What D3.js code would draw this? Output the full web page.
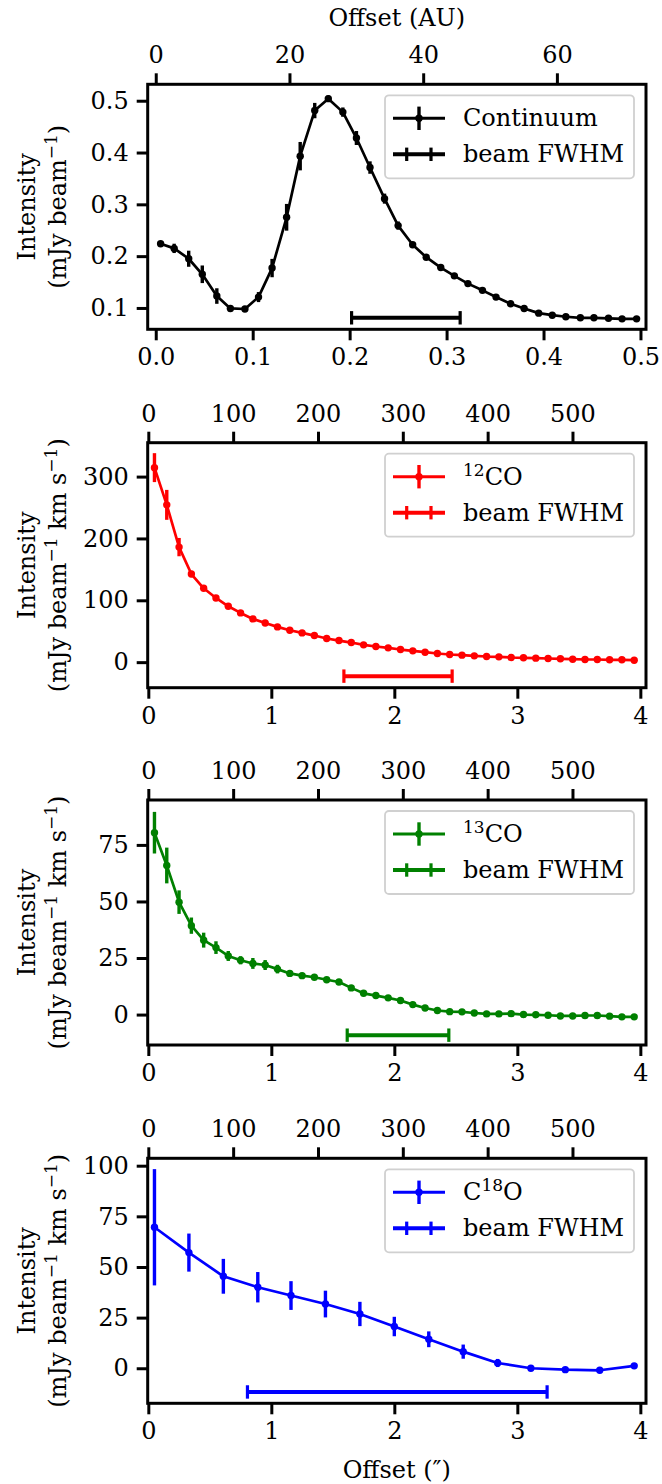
<!DOCTYPE html>
<html><head><meta charset="utf-8">
<script src="https://cdn.jsdelivr.net/npm/d3@7"></script>
<style>
body{margin:0;background:#fff}
text{font-family:"DejaVu Serif",serif}
</style>
</head><body>
<svg id="c" width="662" height="1484" xmlns="http://www.w3.org/2000/svg"></svg>
<script>
// ---------------- DATA ----------------
// Continuum (offset in arcsec, intensity mJy/beam)
const contX = [0.005,0.019,0.034,0.048,0.063,0.077,0.092,0.106,0.120,0.135,0.149,0.164,0.178,0.193,0.207,0.221,0.236,0.250,0.265,0.279,0.294,0.308,0.322,0.337,0.351,0.366,0.380,0.395,0.409,0.423,0.438,0.452,0.467,0.481,0.496];
const contY = [0.224,0.215,0.195,0.165,0.123,0.099,0.098,0.121,0.177,0.275,0.393,0.481,0.504,0.478,0.428,0.371,0.311,0.259,0.222,0.198,0.178,0.162,0.147,0.134,0.121,0.108,0.099,0.090,0.086,0.083,0.081,0.081,0.080,0.079,0.079];
const contErr = [0.005,0.009,0.0155,0.017,0.015,0.006,0.005,0.0097,0.0177,0.0258,0.0274,0.0148,0.006,0.009,0.0135,0.012,0.0097,0.008,0.005,0.005,0.005,0.005,0.005,0.005,0.005,0.005,0.005,0.005,0.005,0.005,0.005,0.005,0.005,0.005,0.005];

// 12CO and 13CO share the same radial sampling
const coX = [0.05,0.15,0.25,0.35,0.45,0.55,0.65,0.75,0.85,0.95,1.05,1.15,1.25,1.35,1.45,1.55,1.65,1.75,1.85,1.95,2.05,2.15,2.25,2.35,2.45,2.55,2.65,2.75,2.85,2.95,3.05,3.15,3.25,3.35,3.45,3.55,3.65,3.75,3.85,3.95];
const co12Y = [314.5,254.3,186,142.5,119.4,103.8,90.3,79.6,69.9,63.4,57,51.6,47.3,43,38.2,34.9,31.7,28,25.3,23.1,20.4,18.3,16.1,14,12.4,11.3,10.2,9.1,8.6,7.5,7,6.5,5.9,5.4,4.8,4.3,4.3,3.8,3.8,3.2];
const co12Err = [23.4,24.2,14.8,5,4,3,3,3,3,3,3,3,3,3,3,3,3,3,3,3,3,3,3,3,3,3,3,3,3,3,3,3,3,3,3,3,3,3,3,3];
const co13Y = [80.4,65.9,49.7,39.3,32.9,29.6,25.9,24,22.6,21.9,20.1,18.2,17.2,16.5,15.4,14.4,11.8,9.4,8.4,7.4,6.2,4.4,2.9,1.8,1.3,1.2,0.7,0.3,0.3,0.4,0,-0.1,-0.3,-0.6,-0.6,-0.4,-0.4,-0.7,-1.0,-1.0];
const co13Err = [9.2,7.9,5.2,3.6,3.3,2.8,2.2,1.8,2.4,2.2,1.9,1.2,1.2,1.2,1.2,1.2,1.2,1.2,1.2,1.2,1.2,1.2,1.2,1.2,1.2,1.2,1.2,1.2,1.2,1.2,1.2,1.2,1.2,1.2,1.2,1.2,1.2,1.2,1.2,1.2];

// C18O
const c18X = [0.05,0.33,0.61,0.89,1.16,1.44,1.72,2.00,2.28,2.56,2.84,3.11,3.39,3.67,3.95];
const c18Y = [69.6,57.1,45.4,40,35.9,31.7,26.8,20.6,14.3,8.2,2.6,0,-0.7,-1.0,1.2];
const c18Err = [28.7,9.4,8.6,7.5,7.1,6.6,6.0,4.8,3.9,3.5,2.0,1.0,1.0,1.0,1.0];

// beam FWHM bars (center, half width, y level) per panel
const beamCenter = [0.258, 2.03, 2.03, 2.024];
const beamHalf   = [0.056, 0.44, 0.413, 1.218];
const beamLevel  = [0.081, -22.6, -9.1, -11.7];

// axis limits & ticks
const xlimCont = [-0.0083, 0.5057];
const xlimLine = [-0.005, 4.046];
const ylims = [[0.0588,0.5317],[-41.3,354.8],[-13.45,94.85],[-17.3,103.65]];
const xTicksCont = [0,0.1,0.2,0.3,0.4,0.5];
const xTicksLine = [0,1,2,3,4];
const auTicksCont = [0,20,40,60];
const auTicksLine = [0,100,200,300,400,500];
const yTicks = [[0.1,0.2,0.3,0.4,0.5],[0,100,200,300],[0,25,50,75],[0,25,50,75,100]];
const auPerArcsec = 145;

// legend labels: [main, sup, rest]
const legendLabels = [["Continuum","",""],["","12","CO"],["","13","CO"],["C","18","O"]];
const colors = ["#000000","#ff0000","#008000","#0000ff"];

// ---------------- LAYOUT ----------------
const svg = d3.select("#c");
const L = 147.7, R = 646, PH = 245;
const tops = [84.3, 442.7, 800, 1158.3];
const FS = 24, SFS = 17, SUP = 9;

const panels = [
  {xs:contX, ys:contY, es:contErr, xlim:xlimCont, xt:xTicksCont, au:auTicksCont, xfmt:d3.format(".1f"), yfmt:d3.format(".1f"), ylab2:"cont"},
  {xs:coX, ys:co12Y, es:co12Err, xlim:xlimLine, xt:xTicksLine, au:auTicksLine, xfmt:d3.format("d"), yfmt:d3.format("d"), ylab2:"line"},
  {xs:coX, ys:co13Y, es:co13Err, xlim:xlimLine, xt:xTicksLine, au:auTicksLine, xfmt:d3.format("d"), yfmt:d3.format("d"), ylab2:"line"},
  {xs:c18X, ys:c18Y, es:c18Err, xlim:xlimLine, xt:xTicksLine, au:auTicksLine, xfmt:d3.format("d"), yfmt:d3.format("d"), ylab2:"line"}
];

function styleAxis(g){
  g.select(".domain").remove();
  g.selectAll(".tick line").attr("stroke","#000").attr("stroke-width",3);
  g.selectAll(".tick text").attr("fill","#000").style("font-family","DejaVu Serif").style("font-size",FS+"px");
}

panels.forEach((p,i)=>{
  const top = tops[i], bot = top+PH, col = colors[i];
  const x = d3.scaleLinear().domain(p.xlim).range([L,R]);
  const xa = d3.scaleLinear().domain(p.xlim.map(v=>v*auPerArcsec)).range([L,R]);
  const y = d3.scaleLinear().domain(ylims[i]).range([bot,top]);
  const g = svg.append("g");

  // axes
  g.append("g").attr("transform",`translate(0,${bot})`)
    .call(d3.axisBottom(x).tickValues(p.xt).tickFormat(p.xfmt).tickSize(11).tickPadding(8).tickSizeOuter(0)).call(styleAxis);
  g.append("g").attr("transform",`translate(0,${top})`)
    .call(d3.axisTop(xa).tickValues(p.au).tickFormat(d3.format("d")).tickSize(11).tickPadding(10).tickSizeOuter(0)).call(styleAxis);
  g.append("g").attr("transform",`translate(${L},0)`)
    .call(d3.axisLeft(y).tickValues(yTicks[i]).tickFormat(p.yfmt).tickSize(11).tickPadding(8).tickSizeOuter(0)).call(styleAxis);

  // data line
  const pts = p.xs.map((v,k)=>[v,p.ys[k],p.es[k]]);
  g.append("path").datum(pts)
    .attr("d", d3.line().x(d=>x(d[0])).y(d=>y(d[1])))
    .attr("fill","none").attr("stroke",col).attr("stroke-width",2.7).attr("stroke-linejoin","round");
  // error bars
  g.selectAll(".eb").data(pts).join("line")
    .attr("x1",d=>x(d[0])).attr("x2",d=>x(d[0]))
    .attr("y1",d=>y(d[1]-d[2])).attr("y2",d=>y(d[1]+d[2]))
    .attr("stroke",col).attr("stroke-width",3.4);
  // markers
  g.selectAll(".mk").data(pts).join("circle")
    .attr("cx",d=>x(d[0])).attr("cy",d=>y(d[1])).attr("r",3.7).attr("fill",col);

  // beam bar
  const bx1 = x(beamCenter[i]-beamHalf[i]), bx2 = x(beamCenter[i]+beamHalf[i]), by = y(beamLevel[i]);
  g.append("line").attr("x1",bx1).attr("x2",bx2).attr("y1",by).attr("y2",by).attr("stroke",col).attr("stroke-width",4);
  [bx1,bx2].forEach(bx=>g.append("line").attr("x1",bx).attr("x2",bx).attr("y1",by-6.7).attr("y2",by+6.7).attr("stroke",col).attr("stroke-width",3.2));

  // legend
  const lg = g.append("g");
  lg.append("rect").attr("x",385).attr("y",top+11).attr("width",249).attr("height",83).attr("rx",4)
    .attr("fill","#fff").attr("fill-opacity",0.8).attr("stroke","#d0d0d0").attr("stroke-width",1.8);
  const e1 = top+34, e2 = top+70, hx1 = 393, hx2 = 445, hm = 419;
  lg.append("line").attr("x1",hx1).attr("x2",hx2).attr("y1",e1).attr("y2",e1).attr("stroke",col).attr("stroke-width",3);
  lg.append("line").attr("x1",hm).attr("x2",hm).attr("y1",e1-11.7).attr("y2",e1+11.7).attr("stroke",col).attr("stroke-width",3.4);
  lg.append("circle").attr("cx",hm).attr("cy",e1).attr("r",3.7).attr("fill",col);
  lg.append("line").attr("x1",hx1).attr("x2",hx2).attr("y1",e2).attr("y2",e2).attr("stroke",col).attr("stroke-width",4);
  [406.7,431].forEach(cx=>lg.append("line").attr("x1",cx).attr("x2",cx).attr("y1",e2-6.7).attr("y2",e2+6.7).attr("stroke",col).attr("stroke-width",3.2));
  const lt = lg.append("text").attr("x",463).attr("y",e1+8).style("font-size",FS+"px").attr("fill","#000");
  const lab = legendLabels[i];
  if(lab[0]) lt.append("tspan").text(lab[0]);
  if(lab[1]){ lt.append("tspan").attr("dy",-SUP).style("font-size",SFS+"px").text(lab[1]);
              lt.append("tspan").attr("dy",SUP).text(lab[2]); }
  lg.append("text").attr("x",463).attr("y",e2+8).style("font-size",FS+"px").attr("fill","#000").text("beam FWHM");

  // spines
  g.append("rect").attr("x",L).attr("y",top).attr("width",R-L).attr("height",PH)
    .attr("fill","none").attr("stroke","#000").attr("stroke-width",3);

  // y label
  const cy = (top+bot)/2;
  g.append("text").attr("transform",`translate(35,${cy}) rotate(-90)`).attr("text-anchor","middle")
    .style("font-size",FS+"px").text("Intensity");
  const t2 = g.append("text").attr("transform",`translate(66,${cy}) rotate(-90)`).attr("text-anchor","middle").style("font-size",FS+"px");
  t2.append("tspan").text("(mJy beam");
  t2.append("tspan").attr("dy",-SUP).style("font-size",SFS+"px").text("\u22121");
  if(p.ylab2==="line"){
    t2.append("tspan").attr("dy",SUP).text(" km s");
    t2.append("tspan").attr("dy",-SUP).style("font-size",SFS+"px").text("\u22121");
  }
  t2.append("tspan").attr("dy",SUP).text(")");
});

// axis titles
svg.append("text").attr("x",396.8).attr("y",26).attr("text-anchor","middle").style("font-size",FS+"px").text("Offset (AU)");
svg.append("text").attr("x",396.8).attr("y",1478).attr("text-anchor","middle").style("font-size",FS+"px").text("Offset (\u2033)");
</script>
</body></html>
